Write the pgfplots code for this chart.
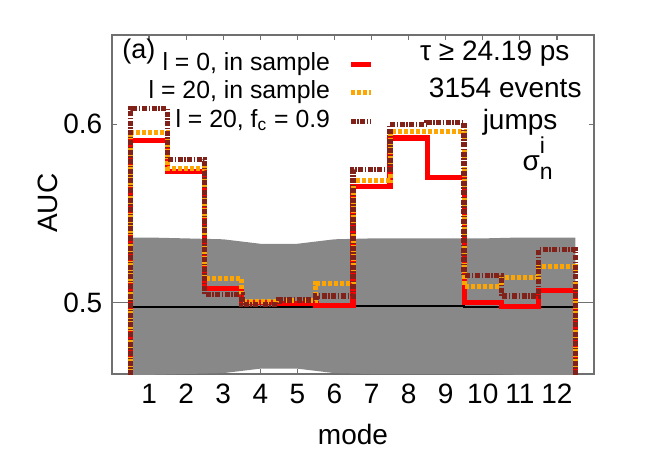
\documentclass[border=0pt]{standalone}
\usepackage{pgfplots}
\pgfplotsset{compat=1.18}
\usepackage{fontspec}
\usepackage{amsmath}
\setmainfont{Liberation Sans}

\definecolor{framegray}{RGB}{112,112,112}
\definecolor{bandgray}{RGB}{136,136,136}
\definecolor{darkbrown}{RGB}{128,34,26}
\definecolor{lorange}{RGB}{255,165,0}

\begin{document}
\fontsize{14}{16}\selectfont
\begin{tikzpicture}
\path[use as bounding box] (-56pt,-39pt) rectangle (267pt,187pt);
\begin{axis}[
    scale only axis,
    width=241pt, height=169.5pt,
    xmin=0, xmax=13,
    ymin=0.46, ymax=0.65,
    xtick={1,...,12},
    ytick={0.5,0.6},
    tick align=inside,
    major tick length=2.5pt,
    axis line style={framegray, line width=0.6pt},
    tick style={framegray, line width=0.6pt},
    /pgf/number format/assume math mode=true,
    yticklabel style={/pgf/number format/.cd, fixed, fixed zerofill, precision=1},
    xlabel={mode},
    ylabel={AUC},
    xlabel style={at={(axis description cs:0.5,-0.177)}, anchor=center},
    ylabel style={at={(axis description cs:-0.1328,0.504)}, anchor=center},
    legend cell align=right,
    legend plot pos=right,
    legend image code/.code={\draw[#1] (0pt,0pt) -- (10pt,0pt);},
    legend style={at={(axis description cs:0.5436,0.953)}, anchor=north east,
        draw=none, fill=none, inner sep=0pt, row sep=1.25pt, column sep=8.5pt,
        font=\fontsize{12.4}{14}\selectfont,
        nodes={inner sep=0.5pt, text height=9pt, text depth=3pt}},
]
% gray reference line at 0.5
\addplot[forget plot, framegray, line width=0.6pt] coordinates {(0,0.5) (13,0.5)};
% spread of random AUC
\addplot[forget plot, fill=bandgray, draw=none] coordinates {
  (0.5,0.5365) (1,0.5365) (2,0.5360) (3,0.5355) (4,0.5330) (5,0.5330) (6,0.5355)
  (7,0.5360) (8,0.5360) (9,0.5360) (10,0.5360) (11,0.5365) (12,0.5365) (12.5,0.5365)
  (12.5,0.4595) (12,0.4595) (11,0.4595) (10,0.4600) (9,0.4600) (8,0.4600) (7,0.4600)
  (6,0.4605) (5,0.4630) (4,0.4630) (3,0.4605) (2,0.4600) (1,0.4595) (0.5,0.4595)} -- cycle;
% mean of random AUC
\addplot[forget plot, black, line width=1pt, const plot] coordinates {
  (0.5,0.4978) (1.5,0.4978) (2.5,0.4978) (3.5,0.4978) (4.5,0.4978) (5.5,0.4978)
  (6.5,0.4982) (7.5,0.4982) (8.5,0.4982) (9.5,0.4978) (10.5,0.4978) (11.5,0.4978) (12.5,0.4978)};
% l = 0, in sample
\addplot[red, line width=2.6pt, const plot] coordinates {
  (0.5,0.40) (0.5,0.5910) (1.5,0.5736) (2.5,0.5079) (3.5,0.5000) (4.5,0.4995) (5.5,0.4983)
  (6.5,0.5653) (7.5,0.5923) (8.5,0.5700) (9.5,0.5002) (10.5,0.4980) (11.5,0.5067)
  (12.5,0.5067) (12.5,0.40)};
\addlegendentry{l = 0, in sample}
% l = 20, in sample
\addplot[lorange, line width=2.5pt, const plot, dash pattern=on 2pt off 1pt] coordinates {
  (0.5,0.40) (0.5,0.5953) (1.5,0.5750) (2.5,0.5135) (3.5,0.5007) (4.5,0.5010) (5.5,0.5105)
  (6.5,0.5685) (7.5,0.5957) (8.5,0.5957) (9.5,0.5092) (10.5,0.5140) (11.5,0.5203)
  (12.5,0.5203) (12.5,0.40)};
\addlegendentry{l = 20, in sample}
% l = 20, f_c = 0.9
\addplot[darkbrown, line width=2.8pt, const plot, dash pattern=on 2.5pt off 0.8pt on 0.7pt off 0.8pt] coordinates {
  (0.5,0.40) (0.5,0.6088) (1.5,0.5803) (2.5,0.5046) (3.5,0.4990) (4.5,0.5015) (5.5,0.5036)
  (6.5,0.5747) (7.5,0.5998) (8.5,0.6010) (9.5,0.5152) (10.5,0.5037) (11.5,0.5297)
  (12.5,0.5297) (12.5,0.40)};
\addlegendentry{l = 20, f\textsubscript{c} = 0.9}

\node[anchor=base west, inner sep=0pt, font=\fontsize{13.5}{15}\selectfont] at (axis description cs:0.0207,0.932) {(a)};
\node[anchor=base east, inner sep=0pt] at (axis description cs:0.950,0.926) {τ ≥ 24.19 ps};
\node[anchor=base east, inner sep=0pt] at (axis description cs:0.975,0.817) {3154 events};
\node[anchor=base east, inner sep=0pt] at (axis description cs:0.925,0.720) {jumps};
\node[anchor=base west, inner sep=0pt] at (axis description cs:0.851,0.599)
  {\text{σ}\rlap{\raisebox{1.15ex}{\fontsize{11.5}{12}\selectfont i}}\raisebox{-0.55ex}{\fontsize{11.5}{12}\selectfont n}};
\end{axis}
\end{tikzpicture}
\end{document}
